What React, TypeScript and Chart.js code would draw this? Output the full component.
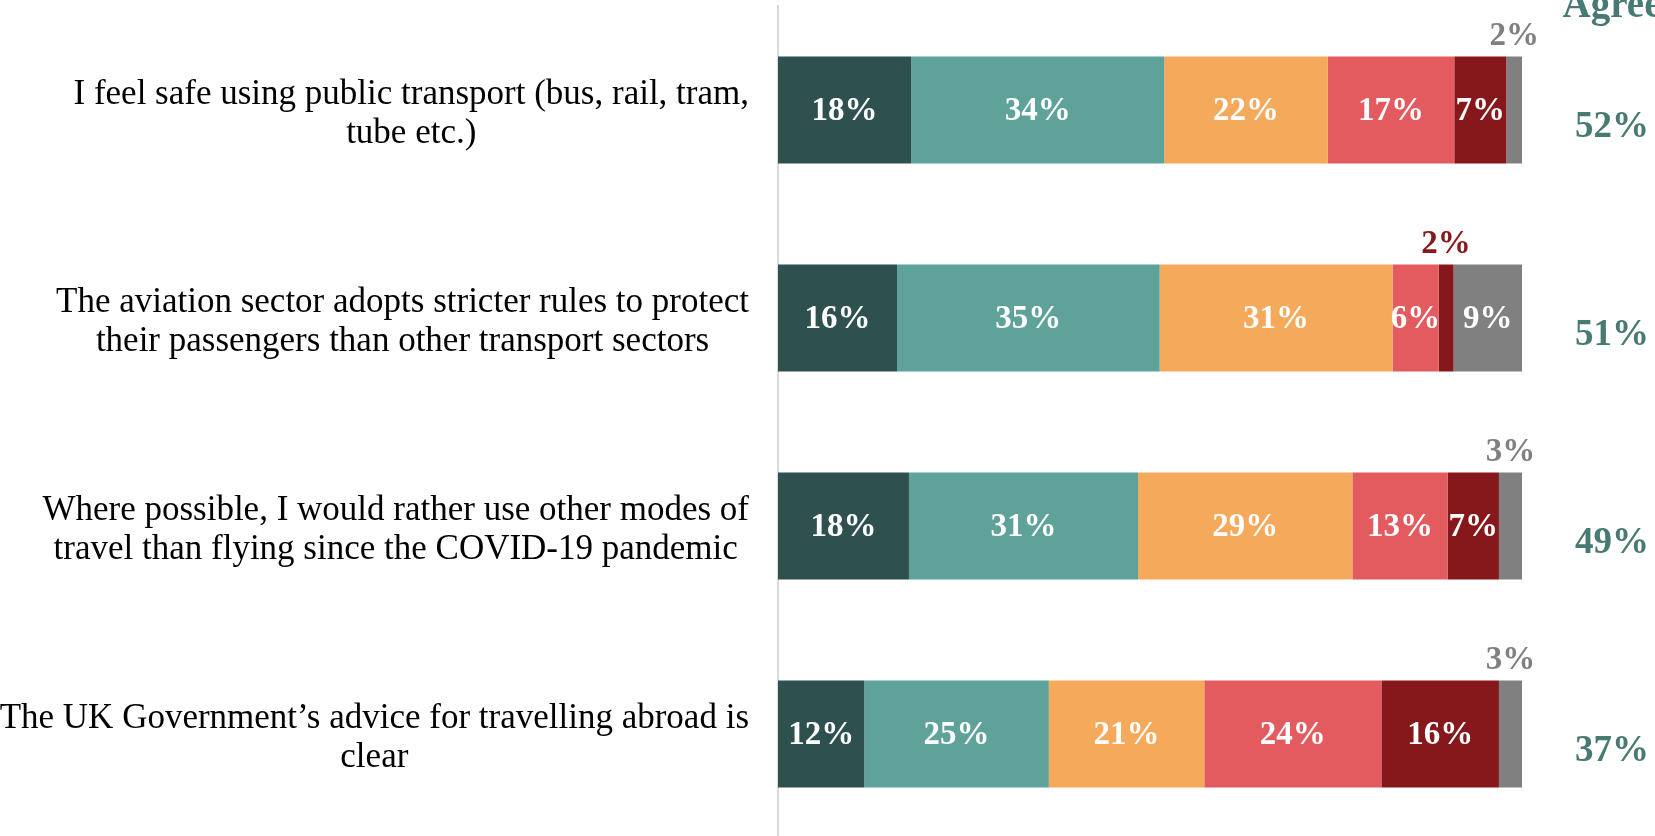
import React, { useEffect, useRef } from "react";
import { Chart, registerables } from "chart.js";

Chart.register(...registerables);

const categories: string[][] = [
  ["I feel safe using public transport (bus, rail, tram,", "tube etc.)"],
  ["The aviation sector adopts stricter rules to protect", "their passengers than other transport sectors"],
  ["Where possible, I would rather use other modes of", "travel than flying since the COVID-19 pandemic"],
  ["The UK Government\u2019s advice for travelling abroad is", "clear"],
];

const seriesNames = ["Strongly agree", "Tend to agree", "Neither agree nor disagree", "Tend to disagree", "Strongly disagree", "Don't know"];

const stronglyAgree = [17.9, 16.0, 17.6, 11.6];
const tendAgree = [34.0, 35.3, 30.8, 24.8];
const neither = [22.0, 31.3, 28.8, 20.9];
const tendDisagree = [17.0, 6.2, 12.8, 23.8];
const stronglyDisagree = [7.0, 2.0, 6.9, 15.8];
const dontKnow = [2.1, 9.2, 3.1, 3.1];

const agreeHeader = "Agree";
const agreeTotals = [52, 51, 49, 37];

const seriesColors = ["#2E504E", "#5EA29A", "#F5A95A", "#E35A5F", "#86171B", "#808080"];
const agreeColor = "#477A72";

const SERIF = '"Liberation Serif", "DejaVu Serif", serif';

const overlayPlugin = {
  id: "overlay",
  afterDatasetsDraw(chart: any) {
    const { ctx, chartArea, scales } = chart;
    const yScale = scales.y;
    ctx.save();

    // category labels: each block right-aligned, lines centred within block
    ctx.fillStyle = "#000000";
    ctx.font = `35px ${SERIF}`;
    ctx.textAlign = "center";
    ctx.textBaseline = "middle";
    categories.forEach((lines, i) => {
      const cy = yScale.getPixelForValue(i) + 4;
      const w = Math.max(...lines.map((l) => ctx.measureText(l).width));
      const right = chartArea.left - 29;
      const cx = right - w / 2;
      lines.forEach((l, j) => {
        ctx.fillText(l, cx, cy + (j - (lines.length - 1) / 2) * 39);
      });
    });

    // segment labels
    ctx.font = `bold 33px ${SERIF}`;
    chart.data.datasets.forEach((ds: any, di: number) => {
      const meta = chart.getDatasetMeta(di);
      meta.data.forEach((bar: any, i: number) => {
        const v = ds.data[i];
        const p = bar.getProps(["x", "y", "base", "height"], true);
        const cx = (p.x + p.base) / 2;
        const txt = Math.round(v) + "%";
        if (v < 4) {
          ctx.fillStyle = ds.backgroundColor;
          ctx.textBaseline = "alphabetic";
          ctx.fillText(txt, cx, p.y - p.height / 2 - 11);
        } else {
          ctx.fillStyle = "#FFFFFF";
          ctx.textBaseline = "middle";
          ctx.fillText(txt, cx, p.y + 1);
        }
      });
    });

    // agree column
    ctx.fillStyle = agreeColor;
    const ax = chartArea.right + 90;
    ctx.font = `bold 39px ${SERIF}`;
    ctx.textBaseline = "alphabetic";
    ctx.fillText(agreeHeader, ax, chartArea.top + 11);
    ctx.font = `bold 37px ${SERIF}`;
    ctx.textBaseline = "middle";
    agreeTotals.forEach((t, i) => {
      ctx.fillText(t + "%", ax, yScale.getPixelForValue(i) + 17);
    });

    ctx.restore();
  },
};

export default function App() {
  const canvasRef = useRef<HTMLCanvasElement | null>(null);

  useEffect(() => {
    if (!canvasRef.current) return;
    const seriesValues = [stronglyAgree, tendAgree, neither, tendDisagree, stronglyDisagree, dontKnow];
    const chart = new Chart(canvasRef.current, {
      type: "bar",
      data: {
        labels: categories.map((c) => c.join(" ")),
        datasets: seriesValues.map((vals, i) => ({
          label: seriesNames[i],
          data: vals,
          backgroundColor: seriesColors[i],
          borderWidth: 0,
          barPercentage: 0.515,
          categoryPercentage: 1,
        })),
      },
      options: {
        indexAxis: "y",
        responsive: false,
        animation: false,
        devicePixelRatio: 1,
        layout: { padding: { left: 778, right: 133, top: 6, bottom: 12 } },
        plugins: {
          legend: { display: false },
          tooltip: { enabled: false },
        },
        scales: {
          x: { type: "linear", stacked: true, min: 0, max: 100, display: false },
          y: {
            type: "category",
            stacked: true,
            ticks: { display: false },
            grid: { display: false, drawTicks: false },
            border: { display: true, color: "#D9D9D9", width: 2 },
          },
        },
      },
      plugins: [overlayPlugin],
    });
    return () => chart.destroy();
  }, []);

  return (
    <div style={{ position: "fixed", left: 0, top: 0, width: 1655, height: 836, overflow: "hidden", background: "#FFFFFF" }}>
      <canvas ref={canvasRef} width={1655} height={850} style={{ display: "block" }} />
    </div>
  );
}
